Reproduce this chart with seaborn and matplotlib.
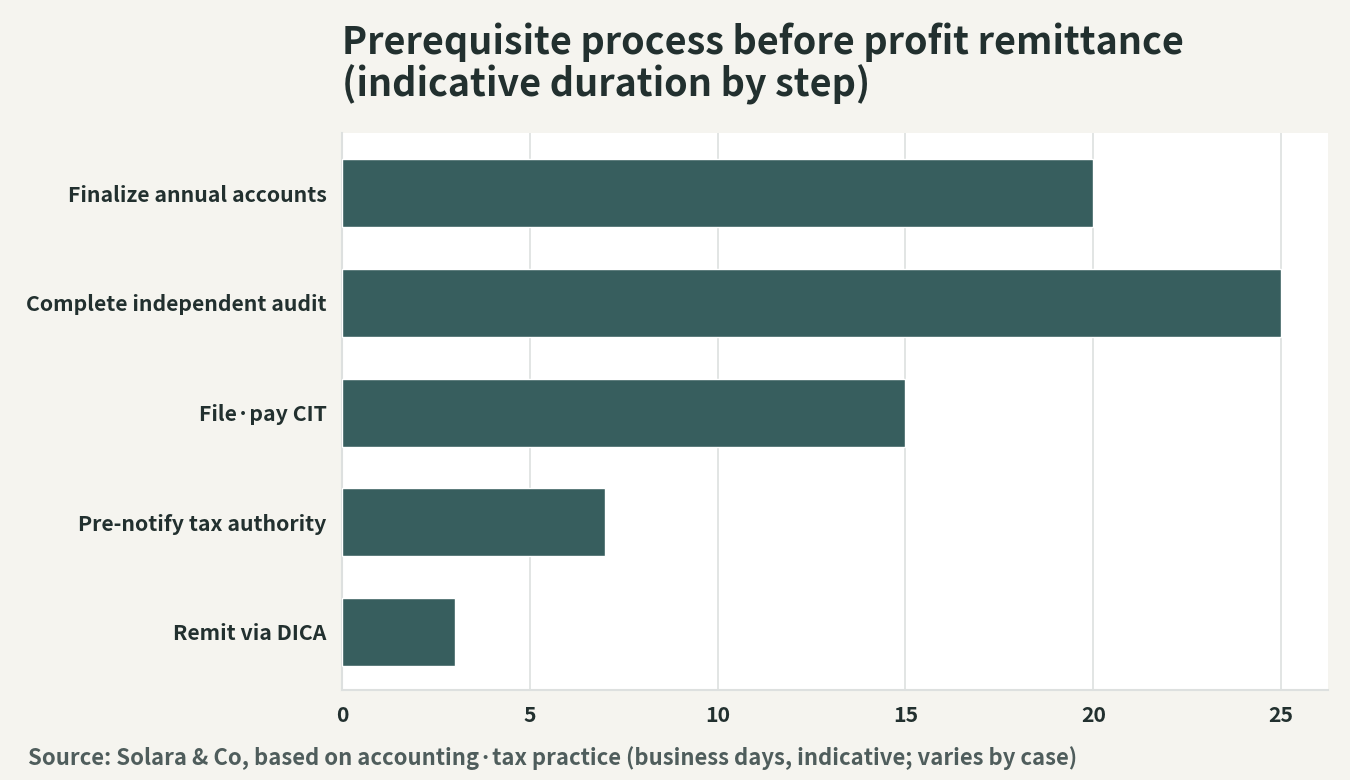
import matplotlib
matplotlib.use("Agg")
import matplotlib.pyplot as plt
import seaborn as sns
import pandas as pd

steps = ["Finalize annual accounts", "Complete independent audit", "File·pay CIT",
         "Pre-notify tax authority", "Remit via DICA"]
days = [20, 25, 15, 7, 3]
xticks = [0, 5, 10, 15, 20, 25]

title = "Prerequisite process before profit remittance\n(indicative duration by step)"
source = "Source: Solara & Co, based on accounting·tax practice (business days, indicative; varies by case)"

BG = "#f5f4ef"
BAR = "#375e5e"
TXT = "#22302f"
GRID = "#dde0df"

sns.set_theme(style="white")
plt.rcParams['font.family'] = ['Noto Sans CJK KR', 'DejaVu Sans']
plt.rcParams['font.weight'] = 'bold'

df = pd.DataFrame({"step": steps, "days": days})

fig = plt.figure(figsize=(13.5, 7.8), dpi=100, facecolor=BG)
ax = fig.add_axes([342/1350, 1-690/780, (1328-342)/1350, (690-133)/780])
ax.set_facecolor("white")

sns.barplot(data=df, x="days", y="step", color=BAR, width=0.62, saturation=1, ax=ax, zorder=3)

ax.set_xlim(0, 26.25)
ax.set_ylim(4.53, -0.55)
ax.set_xticks(xticks)
ax.set_xticklabels([str(t) for t in xticks])
ax.grid(axis="x", color=GRID, linewidth=1.2, zorder=0)
ax.set_axisbelow(True)
ax.set_xlabel("")
ax.set_ylabel("")
for s in ["top", "right"]:
    ax.spines[s].set_visible(False)
for s in ["left", "bottom"]:
    ax.spines[s].set_color(GRID)
    ax.spines[s].set_linewidth(1.5)
ax.tick_params(axis="both", which="both", length=5, width=1, color="#3a4a4a",
               labelcolor=TXT, labelsize=15.3)
ax.tick_params(axis="x", pad=6)
ax.tick_params(axis="y", pad=6)
for lab in ax.get_xticklabels() + ax.get_yticklabels():
    lab.set_fontweight("bold")

fig.text(342/1350, 1-23/780, title, fontsize=27.2, fontweight="bold", color=TXT,
         ha="left", va="top", linespacing=1.07)
fig.text(28/1350, 1-765/780, source, fontsize=15.9, fontweight="bold", color="#4f5d5c",
         ha="left", va="baseline")

fig.savefig("out.png", dpi=100, facecolor=BG)
